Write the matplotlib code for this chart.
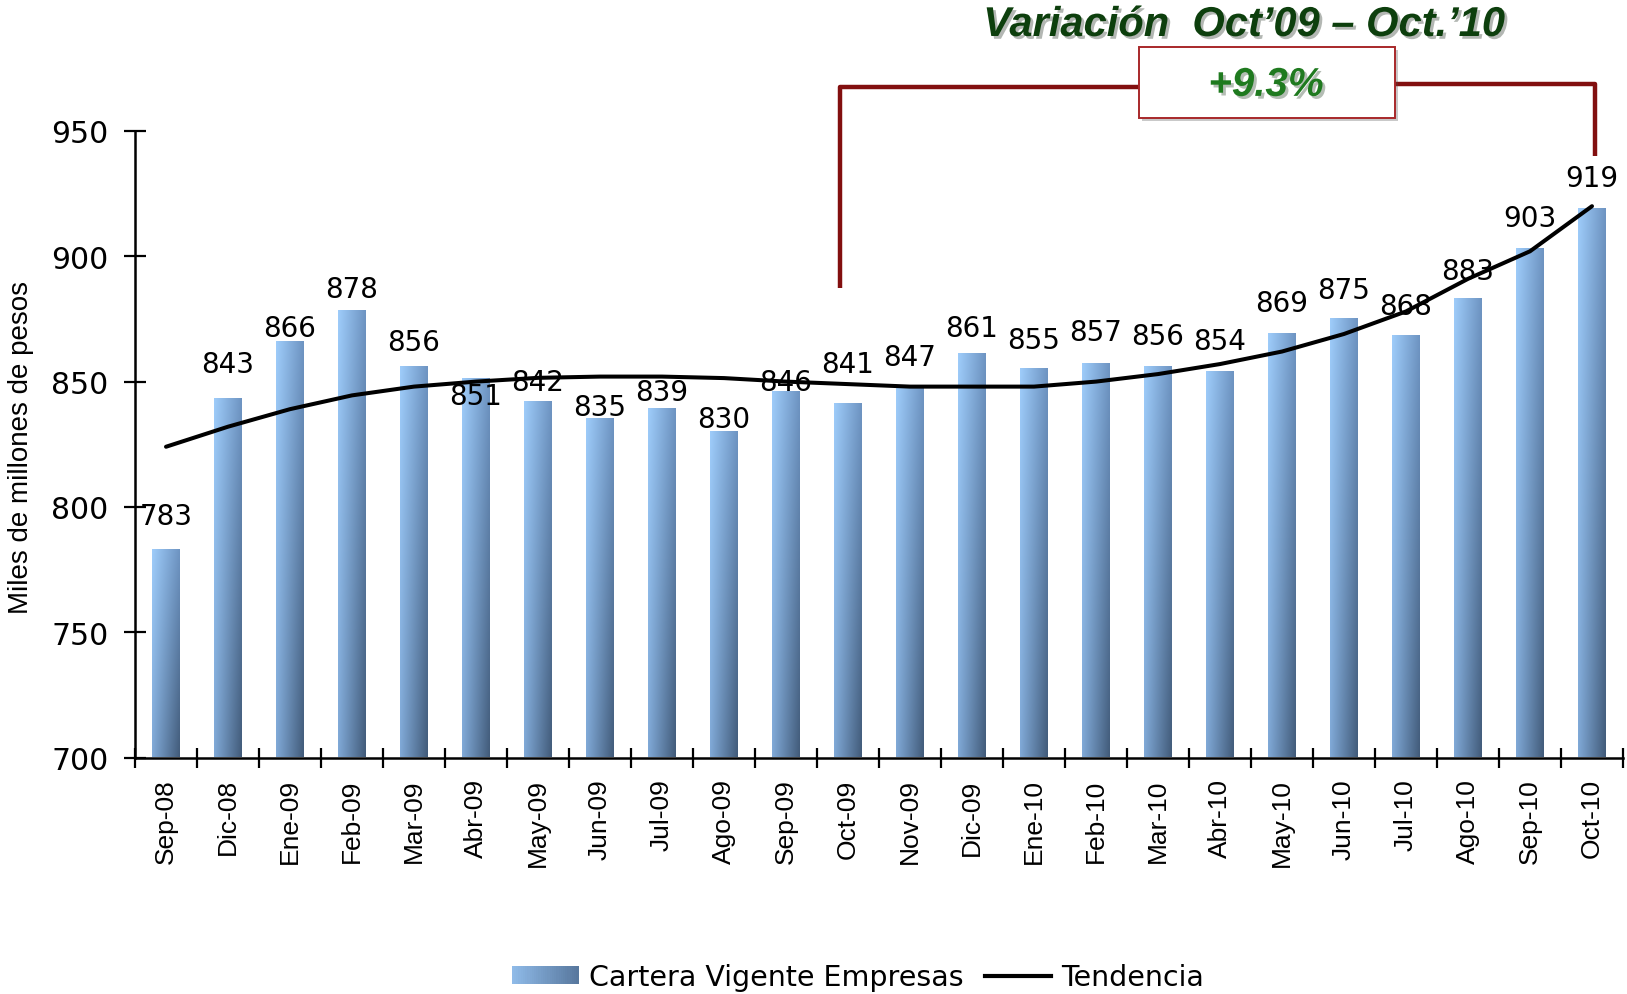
import numpy as np
import matplotlib
matplotlib.use("Agg")
import matplotlib.pyplot as plt
import matplotlib.patheffects as pe
from matplotlib import font_manager
from matplotlib.patches import Rectangle
from matplotlib.legend_handler import HandlerBase

# Data
months = ["Sep-08", "Dic-08", "Ene-09", "Feb-09", "Mar-09", "Abr-09", "May-09",
          "Jun-09", "Jul-09", "Ago-09", "Sep-09", "Oct-09", "Nov-09", "Dic-09",
          "Ene-10", "Feb-10", "Mar-10", "Abr-10", "May-10", "Jun-10", "Jul-10",
          "Ago-10", "Sep-10", "Oct-10"]
cartera = [783, 843, 866, 878, 856, 851, 842, 835, 839, 830, 846, 841,
           847, 861, 855, 857, 856, 854, 869, 875, 868, 883, 903, 919]
tendencia = [824, 832, 839, 844.5, 848, 850, 851.5, 852, 852, 851.4, 850, 849,
             848, 848, 848, 850, 853, 857, 862, 869, 878, 891, 902, 920]
# vertical offset (points) of each value label above its bar, as placed in the original
label_dy = [24, 25, 10, 16, 18, -12, 14, 9, 12, 9, 7, 29,
            23, 19, 21, 23, 22, 22, 22, 21, 22, 20, 22, 22]

variacion_title = "Variación  Oct\u201909 \u2013 Oct.\u201910"
variacion_value = "+9.3%"

# colours of the bar gradient
top_left = np.array([0.62, 0.80, 0.98])
top_right = np.array([0.43, 0.58, 0.76])
bot_left = np.array([0.50, 0.66, 0.84])
bot_right = np.array([0.26, 0.36, 0.48])
bracket_red = "#820f0f"

# narrow font for the rotated texts if it is there
installed = {f.name for f in font_manager.fontManager.ttflist}
if "Liberation Sans Narrow" in installed:
    narrow_font, xtick_size = "Liberation Sans Narrow", 22
else:
    narrow_font, xtick_size = "Liberation Sans", 19


def gradient_image(nx=40, ny=60):
    t = np.linspace(0, 1, nx)[None, :, None]
    s = np.linspace(0, 1, ny)[:, None, None]
    top = top_left * (1 - t) + top_right * t
    bot = bot_left * (1 - t) + bot_right * t
    return bot * (1 - s) + top * s


class GradientHandler(HandlerBase):
    def create_artists(self, legend, orig_handle, xdescent, ydescent,
                       width, height, fontsize, trans):
        n = 30
        arts = []
        for i in range(n):
            f = i / (n - 1)
            c = (0.5 * (top_left + bot_left)) * (1 - f) + (0.5 * (top_right + bot_right)) * f
            r = Rectangle((-xdescent + i * width / n, -ydescent), width / n + 0.3, height,
                          facecolor=c, edgecolor="none", transform=trans)
            arts.append(r)
        return arts


fig = plt.figure(figsize=(16.27, 9.95), dpi=100)
ax = fig.add_axes([135 / 1627, 1 - 758.5 / 995, 1488 / 1627, 626.5 / 995])

x = np.arange(len(months))
bar_w = 0.44
grad = gradient_image()
for xi, v in zip(x, cartera):
    ax.imshow(grad, extent=[xi - bar_w / 2, xi + bar_w / 2, 700, v], origin="lower",
              aspect="auto", interpolation="bilinear", zorder=2)

ax.plot(x, tendencia, color="black", lw=2.9, zorder=3, solid_capstyle="round")

for xi, v, dy in zip(x, cartera, label_dy):
    ax.annotate(f"{v}", (xi, v), xytext=(0, dy), textcoords="offset points",
                ha="center", va="center", fontsize=20, family="DejaVu Sans",
                color="black", zorder=4)

ax.set_xlim(-0.5, len(months) - 0.5)
ax.set_ylim(700, 950)
ax.set_yticks(np.arange(700, 951, 50))
ax.set_xticks(x)
ax.set_xticks(np.arange(-0.5, len(months), 1), minor=True)
ax.set_xticklabels(months, rotation=90, fontsize=xtick_size, family=[narrow_font, "DejaVu Sans"])
for lab in ax.get_yticklabels():
    lab.set_fontsize(21.5)
    lab.set_family("DejaVu Sans")

ax.tick_params(axis="x", which="major", length=0, pad=15)
ax.tick_params(axis="x", which="minor", direction="inout", length=14.5, width=1.6)
ax.tick_params(axis="y", direction="inout", length=16, width=1.6, pad=11)
for side in ["top", "right"]:
    ax.spines[side].set_visible(False)
for side in ["left", "bottom"]:
    ax.spines[side].set_linewidth(1.8)

fig.text(21 / 1627, 1 - 448 / 995, "Miles de millones de pesos", rotation=90,
         ha="center", va="center", fontsize=20, family=["Liberation Sans", "DejaVu Sans"])

# bracket showing the Oct'09 - Oct'10 variation
ax.plot([10.87, 10.87, 15.69], [887.4, 967.6, 967.6], color=bracket_red, lw=3.2,
        clip_on=False, zorder=5, solid_capstyle="butt")
ax.plot([19.82, 23.05, 23.05], [968.8, 968.8, 940], color=bracket_red, lw=3.2,
        clip_on=False, zorder=5, solid_capstyle="butt")
box = Rectangle((15.69, 955.2), 19.82 - 15.69, 983.5 - 955.2, facecolor="white",
                edgecolor="#a8282a", lw=1.4, clip_on=False, zorder=6)
box.set_path_effects([pe.SimplePatchShadow(offset=(2, -2), alpha=0.3), pe.Normal()])
ax.add_patch(box)
ax.text(17.74, 968.4, variacion_value, ha="center", va="center", fontsize=29,
        fontweight="bold", style="italic", color="#1f7a1f",
        family=["Liberation Sans", "DejaVu Sans"], zorder=7,
        path_effects=[pe.SimplePatchShadow(offset=(2, -2), alpha=0.3), pe.Normal()])

fig.text(1244 / 1627, 1 - 26 / 995, variacion_title, ha="center", va="center",
         fontsize=30, fontweight="bold", style="italic", color="#0d3f0d",
         family=["Liberation Sans", "DejaVu Sans"],
         path_effects=[pe.SimplePatchShadow(offset=(2, -2), alpha=0.3), pe.Normal()])

# legend
bar_proxy = Rectangle((0, 0), 1, 1)
line_proxy, = ax.plot([], [], color="black", lw=3)
leg = fig.legend([bar_proxy, line_proxy], ["Cartera Vigente Empresas", "Tendencia"],
                 handler_map={bar_proxy: GradientHandler()},
                 loc="center", bbox_to_anchor=(858 / 1627, 1 - 978 / 995), ncol=2,
                 frameon=False, prop={"family": "DejaVu Sans", "size": 20.5},
                 handlelength=2.35, handletextpad=0.35, columnspacing=0.75,
                 handleheight=0.55)

fig.savefig("out.png", dpi=100)
